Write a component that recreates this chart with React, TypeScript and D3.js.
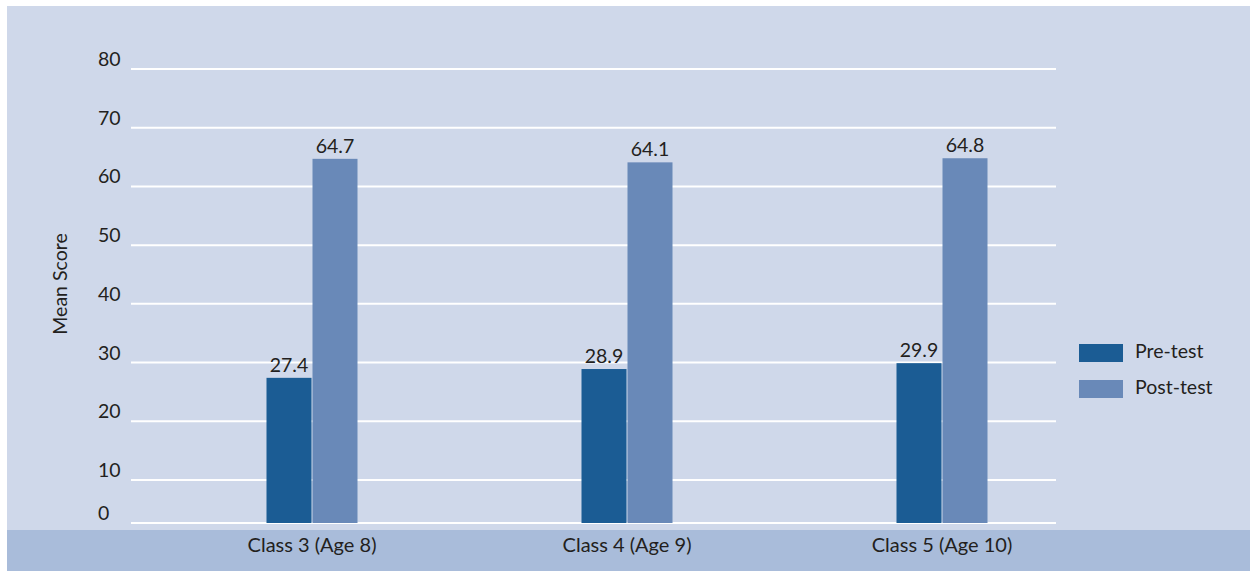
import React, { useEffect, useRef } from "react";
import * as d3 from "d3";

// data
const categories = ["Class 3 (Age 8)", "Class 4 (Age 9)", "Class 5 (Age 10)"];
const seriesNames = ["Pre-test", "Post-test"];
const preTest = [27.4, 28.9, 29.9];
const postTest = [64.7, 64.1, 64.8];
const yTicks = [0, 10, 20, 30, 40, 50, 60, 70, 80];
const colors = ["#1b5c94", "#6989b8"];

const W = 1250;
const H = 571;
const FONT = "Lato, 'Open Sans', sans-serif";

const App = () => {
  const svgRef = useRef<SVGSVGElement>(null);

  useEffect(() => {
    const svg = d3.select(svgRef.current);
    svg.selectAll("*").remove();

    // background panel + bottom band
    svg.append("rect").attr("x", 7).attr("y", 6).attr("width", W - 7).attr("height", H - 6).attr("fill", "#cfd8ea");
    svg.append("rect").attr("x", 7).attr("y", 530).attr("width", W - 7).attr("height", H - 530).attr("fill", "#a9bcda");

    // the original axis is squeezed below 10, so the scale is piecewise
    const y = d3.scaleLinear().domain([0, 10, 80]).range([523, 480, 69]);
    const x0 = d3.scaleBand<string>().domain(categories).range([154.5, 1099.5]);
    const x1 = d3.scaleBand<string>().domain(seriesNames).range([-45.5, 45.5]).paddingInner(1 / 46);

    const grid = svg.append("g");
    grid
      .selectAll("line")
      .data(yTicks)
      .join("line")
      .attr("x1", 131)
      .attr("x2", 1056)
      .attr("y1", (d) => y(d))
      .attr("y2", (d) => y(d))
      .attr("stroke", "#ffffff")
      .attr("stroke-width", 2);

    grid
      .selectAll("text")
      .data(yTicks)
      .join("text")
      .attr("x", 98)
      .attr("y", (d) => y(d) - 3)
      .attr("font-family", FONT)
      .attr("font-size", 19.5)
      .attr("fill", "#231f20")
      .text((d) => d);

    svg
      .append("text")
      .attr("transform", "translate(67,284) rotate(-90)")
      .attr("text-anchor", "middle")
      .attr("font-family", FONT)
      .attr("font-size", 19.5)
      .attr("fill", "#231f20")
      .text("Mean Score");

    const rows = categories.map((c, i) => ({ cat: c, values: [preTest[i], postTest[i]] }));

    const groups = svg
      .selectAll(".group")
      .data(rows)
      .join("g")
      .attr("class", "group")
      .attr("transform", (d) => `translate(${(x0(d.cat) ?? 0) + x0.bandwidth() / 2},0)`);

    groups
      .selectAll("rect")
      .data((d) => d.values.map((v, j) => ({ v, s: seriesNames[j], j })))
      .join("rect")
      .attr("x", (d) => x1(d.s) ?? 0)
      .attr("width", x1.bandwidth())
      .attr("y", (d) => y(d.v))
      .attr("height", (d) => y(0) - y(d.v))
      .attr("fill", (d) => colors[d.j]);

    groups
      .selectAll("text.val")
      .data((d) => d.values.map((v, j) => ({ v, s: seriesNames[j] })))
      .join("text")
      .attr("class", "val")
      .attr("x", (d) => (x1(d.s) ?? 0) + x1.bandwidth() / 2)
      .attr("y", (d) => y(d.v) - 6)
      .attr("text-anchor", "middle")
      .attr("font-family", FONT)
      .attr("font-size", 19.5)
      .attr("fill", "#231f20")
      .text((d) => d.v.toFixed(1));

    groups
      .append("text")
      .attr("y", 552)
      .attr("text-anchor", "middle")
      .attr("font-family", FONT)
      .attr("font-size", 20)
      .attr("fill", "#231f20")
      .text((d) => d.cat);

    // legend
    const legend = svg
      .selectAll(".legend")
      .data(seriesNames)
      .join("g")
      .attr("class", "legend")
      .attr("transform", (d, i) => `translate(1079,${344 + i * 36})`);
    legend.append("rect").attr("width", 44).attr("height", 18).attr("fill", (d, i) => colors[i]);
    legend
      .append("text")
      .attr("x", 56)
      .attr("y", 14)
      .attr("font-family", FONT)
      .attr("font-size", 19.5)
      .attr("fill", "#231f20")
      .text((d) => d);
  }, []);

  return (
    <svg
      ref={svgRef}
      width={W}
      height={H}
      style={{ position: "absolute", left: 0, top: 0, background: "#ffffff" }}
    />
  );
};

export default App;
